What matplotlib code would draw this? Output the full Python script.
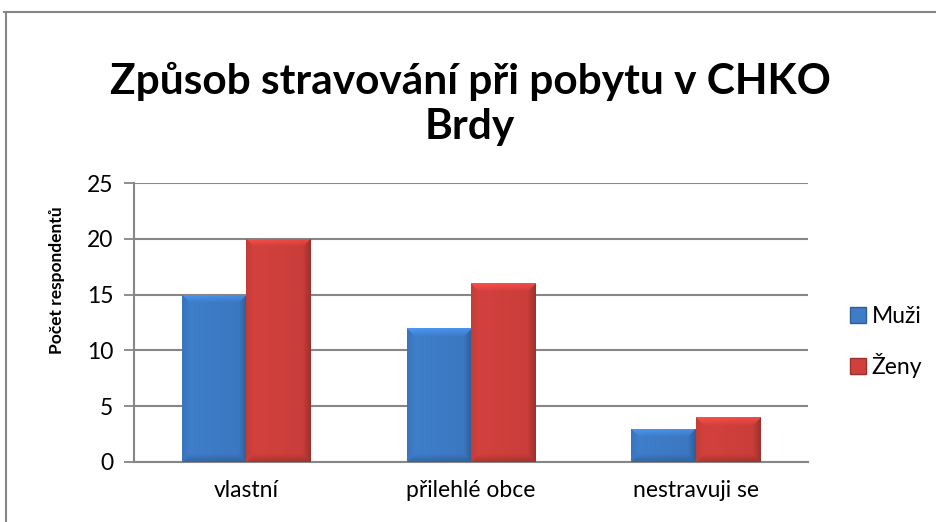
import numpy as np
import matplotlib.pyplot as plt
from matplotlib.lines import Line2D
from matplotlib.patches import Patch

plt.rcParams['font.family'] = ['Lato', 'DejaVu Sans']

categories = ['vlastní', 'přilehlé obce', 'nestravuji se']
muzi = [15, 12, 3]
zeny = [20, 16, 4]
series_names = ['Muži', 'Ženy']
yticks = [0, 5, 10, 15, 20, 25]

BLUE = np.array([62, 124, 200]) / 255
RED = np.array([208, 64, 60]) / 255
GRID = '#868686'


def bevel_image(color, w_px, h_px, b=8.0):
    # soft bevel: light top edge, darker right/bottom edges
    h_px = max(int(round(h_px)), 2)
    w_px = max(int(round(w_px)), 2)
    yy, xx = np.mgrid[0:h_px, 0:w_px].astype(float)
    top = yy
    bottom = h_px - 1 - yy
    left = xx
    right = w_px - 1 - xx
    fac = 1.02 - 0.06 * (xx / w_px)
    d = np.minimum(np.minimum(top, bottom), np.minimum(left, right))
    ramp = np.clip(1 - d / b, 0, 1)
    is_top = (top <= np.minimum(left, right)) & (top <= bottom)
    is_right = (~is_top) & (right <= left) & (right <= bottom)
    is_left = (~is_top) & (~is_right) & (left <= bottom)
    is_bottom = ~(is_top | is_right | is_left)
    fac = fac + 0.20 * ramp * is_top - 0.20 * ramp * is_right \
        - 0.08 * ramp * is_left - 0.18 * ramp * is_bottom
    return np.clip(color[None, None, :] * fac[:, :, None], 0, 1)


def draw_bars(ax, x, vals, color):
    bars = ax.bar(x, vals, width=bw, color=color, edgecolor='none', zorder=3)
    for p in bars.patches:
        x0, y0 = p.get_x(), p.get_y()
        w, h = p.get_width(), p.get_height()
        (px0, py0), (px1, py1) = ax.transData.transform([(x0, y0), (x0 + w, y0 + h)])
        img = bevel_image(color, px1 - px0, py1 - py0)
        im = ax.imshow(img, extent=[x0, x0 + w, y0, y0 + h], aspect='auto',
                       zorder=4, interpolation='bilinear')
        im.set_clip_path(p)
    return bars


fig = plt.figure(figsize=(9.37, 5.22), dpi=100)
ax = fig.add_axes([134 / 937, 1 - 462 / 522, 674 / 937, 279 / 522])

x = np.arange(len(categories))
bw = 0.286
ax.set_xlim(-0.5, len(categories) - 0.5)
ax.set_ylim(0, 25)

draw_bars(ax, x - bw / 2, muzi, BLUE)
draw_bars(ax, x + bw / 2, zeny, RED)
ax.set_xlim(-0.5, len(categories) - 0.5)
ax.set_ylim(0, 25)

ax.set_yticks(yticks)
ax.yaxis.grid(True, color=GRID, linewidth=1.5, zorder=0)
ax.set_axisbelow(True)
ax.set_xticks(x)
ax.set_xticklabels(categories, fontsize=16.5)
ax.tick_params(axis='x', length=0, pad=13)
ax.tick_params(axis='y', length=7, width=1.3, color=GRID, labelsize=16.5, pad=8)
for s in ['top', 'right']:
    ax.spines[s].set_visible(False)
for s in ['left', 'bottom']:
    ax.spines[s].set_color(GRID)
    ax.spines[s].set_linewidth(1.5)

ax.set_ylabel('Počet respondentů', fontsize=12.5, fontweight='bold')
ax.yaxis.set_label_coords((65 - 134) / 674, (462 - 280) / 279)

fig.text(470 / 937, 1 - 104 / 522, 'Způsob stravování při pobytu v CHKO\nBrdy',
         ha='center', va='center', fontsize=30.5, fontweight='bold', linespacing=1.2)

handles = [Patch(facecolor=BLUE, edgecolor=BLUE * 0.75),
           Patch(facecolor=RED, edgecolor=RED * 0.75)]
fig.legend(handles, series_names, loc='center left',
           bbox_to_anchor=(841 / 937, 1 - 342 / 522), frameon=False,
           fontsize=16.5, handlelength=0.7, handleheight=0.7,
           handletextpad=0.25, labelspacing=1.1, borderaxespad=0)

# chart area frame (top and left edges visible)
fig.add_artist(Line2D([4 / 937, 936 / 937], [1 - 12 / 522] * 2,
                      transform=fig.transFigure, color=GRID, linewidth=1.5))
fig.add_artist(Line2D([6 / 937, 6 / 937], [1 - 12 / 522, 0],
                      transform=fig.transFigure, color=GRID, linewidth=1.5))

fig.savefig('out.png', dpi=100)
